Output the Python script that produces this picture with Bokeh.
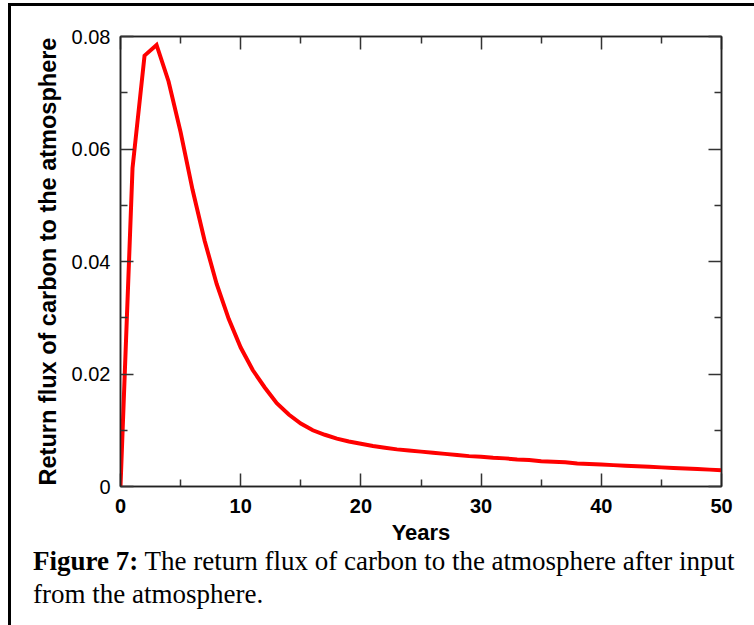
from bokeh.plotting import figure
from bokeh.models import FixedTicker, LinearAxis, Range1d, Div
from bokeh.layouts import column
from bokeh.embed import file_html
from bokeh.resources import INLINE

years = list(range(0, 51))
flux = [0.0, 0.0566, 0.0766, 0.0785, 0.0720, 0.0630, 0.0527, 0.0437, 0.0360, 0.0298,
        0.0247, 0.0207, 0.0176, 0.0148, 0.0128, 0.0112, 0.0100, 0.0092, 0.0085, 0.0080,
        0.0076, 0.0072, 0.0069, 0.0066, 0.0064, 0.0062, 0.0060, 0.0058, 0.0056, 0.0054,
        0.0053, 0.0051, 0.0050, 0.0048, 0.0047, 0.0045, 0.0044, 0.0043, 0.0041, 0.0040,
        0.0039, 0.0038, 0.0037, 0.0036, 0.0035, 0.0034, 0.0033, 0.0032, 0.0031, 0.0030,
        0.0029]

x_major = [0, 10, 20, 30, 40, 50]
x_minor = [5, 15, 25, 35, 45]
y_major = [0, 0.02, 0.04, 0.06, 0.08]
y_minor = [0.01, 0.03, 0.05, 0.07]
y_labels = {0: "0", 0.02: "0.02", 0.04: "0.04", 0.06: "0.06", 0.08: "0.08"}

x_title = "Years"
y_title = "Return flux of carbon to the atmosphere"
caption_bold = "Figure 7:"
caption_line1 = "The return flux of carbon to the atmosphere after input"
caption_line2 = "from the atmosphere."

# page offsets produced by the outer border box
OX, OY = 11, 5.5
PW, PH = 743, 544

p = figure(width=PW, height=PH, output_backend="svg", toolbar_location=None,
           x_range=Range1d(0, 50), y_range=Range1d(0, 0.08),
           min_border_left=109, min_border_right=33, min_border_top=30,
           min_border_bottom=64, x_axis_location=None, y_axis_location=None)
p.grid.visible = False
p.outline_line_color = "#222222"
p.outline_line_width = 1.5
p.background_fill_color = "white"
p.border_fill_color = "white"

def style_axis(ax, ticks, minor, labels_on, bold):
    ax.ticker = FixedTicker(ticks=ticks, minor_ticks=minor)
    ax.major_tick_in = 13
    ax.major_tick_out = 0
    ax.minor_tick_in = 7
    ax.minor_tick_out = 0
    ax.major_tick_line_color = "#333333"
    ax.major_tick_line_width = 1.5
    ax.minor_tick_line_color = "#333333"
    ax.minor_tick_line_width = 1.5
    ax.axis_line_color = "#222222"
    ax.axis_line_width = 1.5
    if not labels_on:
        ax.major_label_text_font_size = "0px"
        ax.major_label_text_color = None
    else:
        ax.major_label_text_font = "Liberation Sans"
        ax.major_label_text_font_size = "20px"
        ax.major_label_text_color = "black"
        ax.major_label_text_font_style = "bold" if bold else "normal"

bx = LinearAxis()
style_axis(bx, x_major, x_minor, True, True)
bx.axis_label = x_title
bx.axis_label_text_font = "Liberation Sans"
bx.axis_label_text_font_size = "22px"
bx.axis_label_text_font_style = "bold"
bx.axis_label_text_color = "black"
bx.major_label_standoff = 12
bx.axis_label_standoff = 4
p.add_layout(bx, "below")

tx = LinearAxis()
style_axis(tx, x_major, x_minor, False, False)
p.add_layout(tx, "above")

ly = LinearAxis()
style_axis(ly, y_major, y_minor, True, False)
ly.major_label_overrides = y_labels
ly.axis_label = y_title
ly.axis_label_text_font = "Liberation Sans"
ly.axis_label_text_font_size = "23.5px"
ly.axis_label_text_font_style = "bold"
ly.axis_label_text_color = "black"
ly.major_label_standoff = 10
ly.axis_label_standoff = 8
p.add_layout(ly, "left")

ry = LinearAxis()
style_axis(ry, y_major, y_minor, False, False)
p.add_layout(ry, "right")

p.line(years, flux, line_color="#ff0000", line_width=4, line_join="miter")

# caption
CH = int(round(625 - OY - PH))
cap_html = (
    '<div style="font-family:\'Liberation Serif\',\'Times New Roman\',serif; '
    'font-size:27px; color:black; padding-left:22px; white-space:nowrap; margin:0;">'
    '<div style="line-height:22px; margin:0;"><b>' + caption_bold + '</b> '
    + caption_line1 + '</div>'
    '<div style="line-height:44px; margin:0;">' + caption_line2 + '</div></div>'
)
cap = Div(text=cap_html, width=PW, height=CH, styles={"margin": "0", "padding": "0"})

layout = column(p, cap, spacing=0,
                styles={"border-left": "3px solid black", "border-top": "3px solid black",
                        "margin-left": "8px", "margin-top": "2.5px"})

open("out.html", "w").write(file_html(layout, INLINE))
